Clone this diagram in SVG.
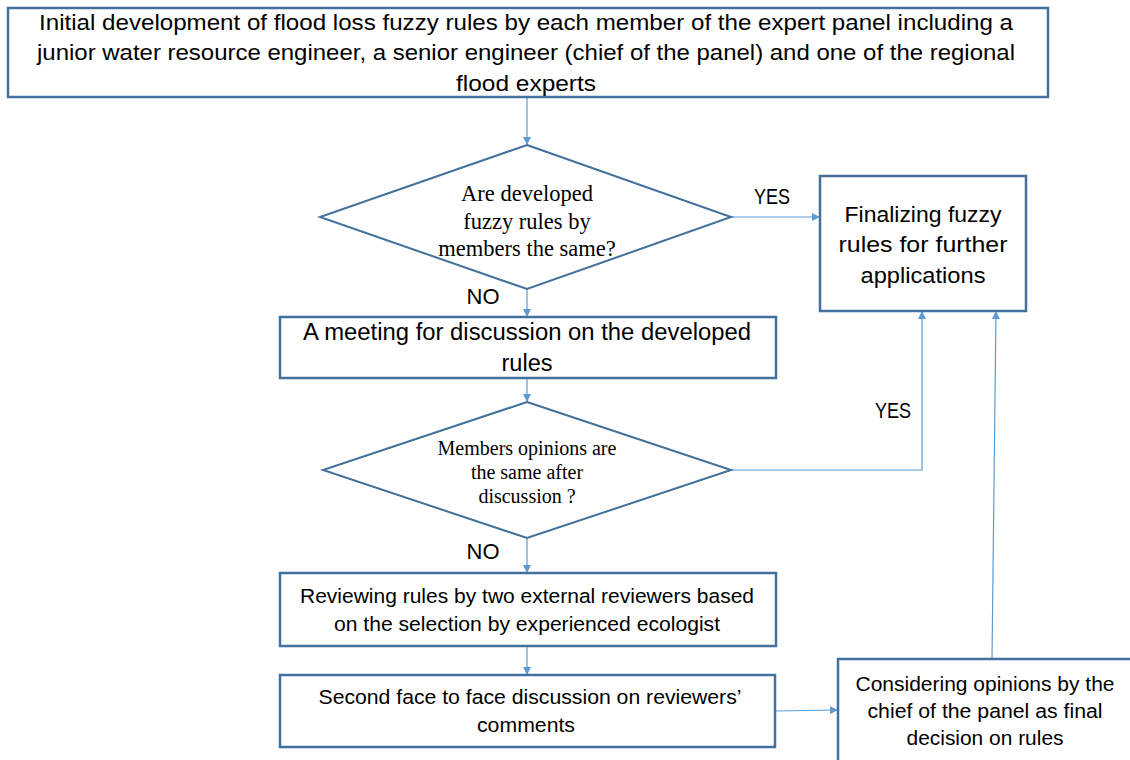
<svg xmlns="http://www.w3.org/2000/svg" width="1130" height="760" viewBox="0 0 1130 760">
<defs>
<marker id="ah" viewBox="0 0 10 10" refX="10" refY="5" markerWidth="8" markerHeight="8" markerUnits="userSpaceOnUse" orient="auto"><path d="M0,0 L10,5 L0,10 z" fill="#5B9BD5"/></marker>
<style>
.box{fill:#fff;stroke:#41719C;stroke-width:2.5}
.dia{fill:#fff;stroke:#41719C;stroke-width:2}
.con{fill:none;stroke:#5B9BD5;stroke-width:1.2}
.t{font-family:"Liberation Sans",Arial,sans-serif;fill:#000;text-anchor:middle}
.s{font-family:"Liberation Serif","Times New Roman",serif;fill:#000;text-anchor:middle}
</style>
</defs>
<rect width="1130" height="760" fill="#fff"/>
<g id="connectors">
<path class="con" d="M527,97 V145" marker-end="url(#ah)"/>
<path class="con" d="M731,217 H820" marker-end="url(#ah)"/>
<path class="con" d="M527,289 V317" marker-end="url(#ah)"/>
<path class="con" d="M527,378 V402" marker-end="url(#ah)"/>
<path class="con" d="M731,470 H922 V311" marker-end="url(#ah)"/>
<path class="con" d="M527,538 V573" marker-end="url(#ah)"/>
<path class="con" d="M527,646 V675" marker-end="url(#ah)"/>
<path class="con" d="M775,711 L838,710" marker-end="url(#ah)"/>
<path class="con" d="M992,659 L996,311" marker-end="url(#ah)"/>
<text class="t" x="772" y="204" font-size="22" textLength="36" lengthAdjust="spacingAndGlyphs">YES</text>
<text class="t" x="483" y="304" font-size="22" textLength="33" lengthAdjust="spacingAndGlyphs">NO</text>
<text class="t" x="893" y="418" font-size="22" textLength="36" lengthAdjust="spacingAndGlyphs">YES</text>
<text class="t" x="483" y="559" font-size="22" textLength="33" lengthAdjust="spacingAndGlyphs">NO</text>
</g>
<g id="n1">
<rect class="box" x="8" y="8" width="1040" height="89"/>
<text class="t" font-size="22"><tspan x="526" y="30" textLength="974" lengthAdjust="spacingAndGlyphs">Initial development of  flood loss fuzzy rules by each member of the expert panel including a</tspan><tspan x="526" y="60" textLength="978" lengthAdjust="spacingAndGlyphs">junior water resource engineer, a senior engineer (chief of the panel) and one of the regional</tspan><tspan x="526" y="91" textLength="140" lengthAdjust="spacingAndGlyphs">flood experts</tspan></text>
</g>
<g id="d1">
<polygon class="dia" points="527,145 731,217 527,289 320,217"/>
<text class="s" font-size="22.5"><tspan x="527" y="201">Are developed</tspan><tspan x="527" y="229">fuzzy rules by</tspan><tspan x="527" y="256">members the same?</tspan></text>
</g>
<g id="n2">
<rect class="box" x="820" y="176" width="206" height="135"/>
<text class="t" font-size="22.5"><tspan x="923" y="222" textLength="157" lengthAdjust="spacingAndGlyphs">Finalizing fuzzy</tspan><tspan x="923" y="252" textLength="169" lengthAdjust="spacingAndGlyphs">rules for further</tspan><tspan x="923" y="283" textLength="125" lengthAdjust="spacingAndGlyphs">applications</tspan></text>
</g>
<g id="n3">
<rect class="box" x="280" y="317" width="496" height="61"/>
<text class="t" font-size="23.5"><tspan x="527" y="340" textLength="448" lengthAdjust="spacingAndGlyphs">A meeting for discussion on the developed</tspan><tspan x="527" y="371">rules</tspan></text>
</g>
<g id="d2">
<polygon class="dia" points="527,402 731,470 527,538 323,470"/>
<text class="s" font-size="20"><tspan x="527" y="455">Members opinions are</tspan><tspan x="527" y="479">the same after</tspan><tspan x="527" y="503">discussion ?</tspan></text>
</g>
<g id="n4">
<rect class="box" x="280" y="573" width="496" height="73"/>
<text class="t" font-size="20.5"><tspan x="527" y="603" textLength="454" lengthAdjust="spacingAndGlyphs">Reviewing rules by two external reviewers based</tspan><tspan x="527" y="631" textLength="386" lengthAdjust="spacingAndGlyphs">on the selection by experienced ecologist</tspan></text>
</g>
<g id="n5">
<rect class="box" x="280" y="675" width="495" height="72"/>
<text class="t" font-size="20.5"><tspan x="530" y="704" textLength="423" lengthAdjust="spacingAndGlyphs">Second face to face discussion on reviewers’</tspan><tspan x="526" y="732" textLength="98" lengthAdjust="spacingAndGlyphs">comments</tspan></text>
</g>
<g id="n6">
<rect class="box" x="838" y="659" width="300" height="110"/>
<text class="t" font-size="20"><tspan x="985" y="691" textLength="259" lengthAdjust="spacingAndGlyphs">Considering opinions by the</tspan><tspan x="985" y="718" textLength="235" lengthAdjust="spacingAndGlyphs">chief of the panel as final</tspan><tspan x="985" y="745" textLength="157" lengthAdjust="spacingAndGlyphs">decision on rules</tspan></text>
</g>
</svg>
